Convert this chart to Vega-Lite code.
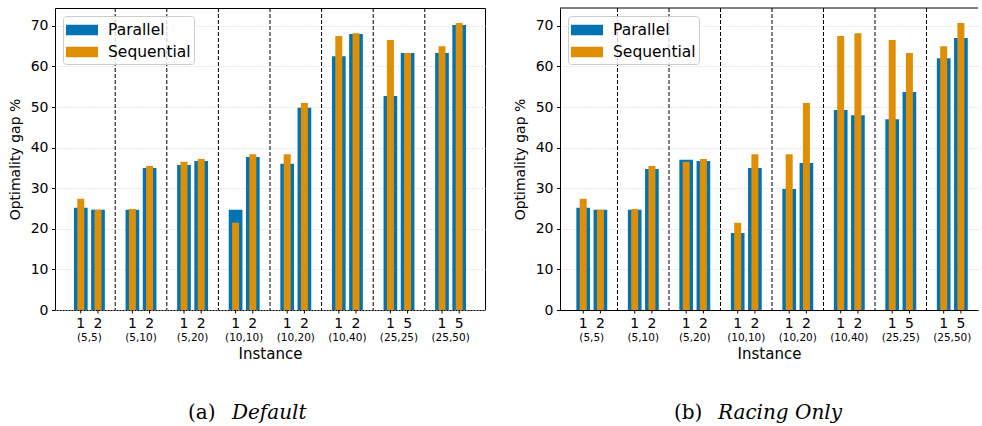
{
  "$schema": "https://vega.github.io/schema/vega-lite/v6.json",
  "padding": {"left": 7, "top": 7, "right": 0, "bottom": 0},
  "datasets": {
    "default": [
      {"g": "(5,5)", "k": 1, "inst": "1", "series": "Parallel", "v": 25.2},
      {"g": "(5,5)", "k": 1, "inst": "1", "series": "Sequential", "v": 27.4},
      {"g": "(5,5)", "k": 2, "inst": "2", "series": "Parallel", "v": 24.7},
      {"g": "(5,5)", "k": 2, "inst": "2", "series": "Sequential", "v": 24.7},
      {"g": "(5,10)", "k": 1, "inst": "1", "series": "Parallel", "v": 24.7},
      {"g": "(5,10)", "k": 1, "inst": "1", "series": "Sequential", "v": 24.9},
      {"g": "(5,10)", "k": 2, "inst": "2", "series": "Parallel", "v": 35.0},
      {"g": "(5,10)", "k": 2, "inst": "2", "series": "Sequential", "v": 35.5},
      {"g": "(5,20)", "k": 1, "inst": "1", "series": "Parallel", "v": 35.7},
      {"g": "(5,20)", "k": 1, "inst": "1", "series": "Sequential", "v": 36.5},
      {"g": "(5,20)", "k": 2, "inst": "2", "series": "Parallel", "v": 36.7},
      {"g": "(5,20)", "k": 2, "inst": "2", "series": "Sequential", "v": 37.2},
      {"g": "(10,10)", "k": 1, "inst": "1", "series": "Parallel", "v": 24.7},
      {"g": "(10,10)", "k": 1, "inst": "1", "series": "Sequential", "v": 21.5},
      {"g": "(10,10)", "k": 2, "inst": "2", "series": "Parallel", "v": 37.7},
      {"g": "(10,10)", "k": 2, "inst": "2", "series": "Sequential", "v": 38.4},
      {"g": "(10,20)", "k": 1, "inst": "1", "series": "Parallel", "v": 36.0},
      {"g": "(10,20)", "k": 1, "inst": "1", "series": "Sequential", "v": 38.4},
      {"g": "(10,20)", "k": 2, "inst": "2", "series": "Parallel", "v": 49.8},
      {"g": "(10,20)", "k": 2, "inst": "2", "series": "Sequential", "v": 51.0},
      {"g": "(10,40)", "k": 1, "inst": "1", "series": "Parallel", "v": 62.5},
      {"g": "(10,40)", "k": 1, "inst": "1", "series": "Sequential", "v": 67.5},
      {"g": "(10,40)", "k": 2, "inst": "2", "series": "Parallel", "v": 68.0},
      {"g": "(10,40)", "k": 2, "inst": "2", "series": "Sequential", "v": 68.2},
      {"g": "(25,25)", "k": 1, "inst": "1", "series": "Parallel", "v": 52.7},
      {"g": "(25,25)", "k": 1, "inst": "1", "series": "Sequential", "v": 66.5},
      {"g": "(25,25)", "k": 2, "inst": "5", "series": "Parallel", "v": 63.3},
      {"g": "(25,25)", "k": 2, "inst": "5", "series": "Sequential", "v": 63.3},
      {"g": "(25,50)", "k": 1, "inst": "1", "series": "Parallel", "v": 63.3},
      {"g": "(25,50)", "k": 1, "inst": "1", "series": "Sequential", "v": 65.0},
      {"g": "(25,50)", "k": 2, "inst": "5", "series": "Parallel", "v": 70.2},
      {"g": "(25,50)", "k": 2, "inst": "5", "series": "Sequential", "v": 70.7}
    ],
    "racing": [
      {"g": "(5,5)", "k": 1, "inst": "1", "series": "Parallel", "v": 25.2},
      {"g": "(5,5)", "k": 1, "inst": "1", "series": "Sequential", "v": 27.4},
      {"g": "(5,5)", "k": 2, "inst": "2", "series": "Parallel", "v": 24.7},
      {"g": "(5,5)", "k": 2, "inst": "2", "series": "Sequential", "v": 24.7},
      {"g": "(5,10)", "k": 1, "inst": "1", "series": "Parallel", "v": 24.7},
      {"g": "(5,10)", "k": 1, "inst": "1", "series": "Sequential", "v": 24.9},
      {"g": "(5,10)", "k": 2, "inst": "2", "series": "Parallel", "v": 34.75},
      {"g": "(5,10)", "k": 2, "inst": "2", "series": "Sequential", "v": 35.5},
      {"g": "(5,20)", "k": 1, "inst": "1", "series": "Parallel", "v": 37.0},
      {"g": "(5,20)", "k": 1, "inst": "1", "series": "Sequential", "v": 36.5},
      {"g": "(5,20)", "k": 2, "inst": "2", "series": "Parallel", "v": 36.7},
      {"g": "(5,20)", "k": 2, "inst": "2", "series": "Sequential", "v": 37.2},
      {"g": "(10,10)", "k": 1, "inst": "1", "series": "Parallel", "v": 19.0},
      {"g": "(10,10)", "k": 1, "inst": "1", "series": "Sequential", "v": 21.5},
      {"g": "(10,10)", "k": 2, "inst": "2", "series": "Parallel", "v": 35.0},
      {"g": "(10,10)", "k": 2, "inst": "2", "series": "Sequential", "v": 38.4},
      {"g": "(10,20)", "k": 1, "inst": "1", "series": "Parallel", "v": 29.8},
      {"g": "(10,20)", "k": 1, "inst": "1", "series": "Sequential", "v": 38.4},
      {"g": "(10,20)", "k": 2, "inst": "2", "series": "Parallel", "v": 36.2},
      {"g": "(10,20)", "k": 2, "inst": "2", "series": "Sequential", "v": 51.0},
      {"g": "(10,40)", "k": 1, "inst": "1", "series": "Parallel", "v": 49.3},
      {"g": "(10,40)", "k": 1, "inst": "1", "series": "Sequential", "v": 67.5},
      {"g": "(10,40)", "k": 2, "inst": "2", "series": "Parallel", "v": 48.0},
      {"g": "(10,40)", "k": 2, "inst": "2", "series": "Sequential", "v": 68.2},
      {"g": "(25,25)", "k": 1, "inst": "1", "series": "Parallel", "v": 47.0},
      {"g": "(25,25)", "k": 1, "inst": "1", "series": "Sequential", "v": 66.5},
      {"g": "(25,25)", "k": 2, "inst": "5", "series": "Parallel", "v": 53.7},
      {"g": "(25,25)", "k": 2, "inst": "5", "series": "Sequential", "v": 63.3},
      {"g": "(25,50)", "k": 1, "inst": "1", "series": "Parallel", "v": 62.0},
      {"g": "(25,50)", "k": 1, "inst": "1", "series": "Sequential", "v": 65.0},
      {"g": "(25,50)", "k": 2, "inst": "5", "series": "Parallel", "v": 67.0},
      {"g": "(25,50)", "k": 2, "inst": "5", "series": "Sequential", "v": 70.7}
    ]
  },
  "hconcat": [
    {
      "data": {"name": "default"},
      "width": 430,
      "height": 302,
      "title": {"text": "(a)", "subtitle": "\u2800\u2800\u2800Default", "orient": "bottom", "anchor": "start", "frame": "group", "dx": 133, "offset": 41, "font": "DejaVu Serif", "fontSize": 20, "fontWeight": "normal", "color": "#000", "subtitleFont": "DejaVu Serif", "subtitleFontSize": 20, "subtitleFontStyle": "italic", "subtitleColor": "#000", "subtitlePadding": -20},
      "layer": [
        {
          "transform": [{"filter": "datum.series == 'Parallel'"}],
          "mark": {"type": "bar", "width": 13.7},
          "encoding": {
            "x": {"field": "g", "type": "nominal", "sort": null,
              "scale": {"type": "band", "domain": ["(5,5)", "(5,10)", "(5,20)", "(10,10)", "(10,20)", "(10,40)", "(25,25)", "(25,50)"], "paddingInner": 0, "paddingOuter": 0.1667},
              "axis": {"title": "Instance", "bandPosition": 0.5, "labelAngle": 0, "ticks": false, "tickSize": 0, "domain": false, "grid": false, "labelFontSize": 10.5, "labelPadding": 22, "titleFontSize": 15, "titlePadding": 4}},
            "xOffset": {"field": "k", "type": "ordinal", "scale": {"domain": [1, 2], "paddingInner": 0, "paddingOuter": 0.5}},
            "y": {"field": "v", "type": "quantitative", "scale": {"domain": [0, 74.4], "nice": false, "zero": true},
              "axis": {"title": "Optimality gap %", "values": [0, 10, 20, 30, 40, 50, 60, 70], "grid": true, "gridDash": [1, 2], "gridColor": "#d0d0d0", "domain": false, "tickSize": 3.5, "labelPadding": 3.5, "labelFontSize": 14, "titleFontSize": 14, "titlePadding": 8}},
            "color": {"field": "series", "type": "nominal", "scale": {"domain": ["Parallel", "Sequential"], "range": ["#0173b2", "#de8f05"]}, "legend": {"orient": "top-left", "offset": 8, "title": null}}
          }
        },
        {
          "transform": [{"filter": "datum.series == 'Parallel' && datum.k == 1 && datum.g != '(5,5)'"}],
          "mark": {"type": "rule", "color": "#000", "strokeWidth": 1, "strokeDash": [4, 2]},
          "encoding": {"x": {"field": "g", "type": "nominal", "bandPosition": 0}}
        },
        {
          "transform": [{"filter": "datum.series == 'Sequential'"}],
          "mark": {"type": "bar", "width": 7},
          "encoding": {
            "x": {"field": "g", "type": "nominal"},
            "xOffset": {"field": "k", "type": "ordinal"},
            "y": {"field": "v", "type": "quantitative"},
            "color": {"field": "series", "type": "nominal"}
          }
        },
        {
          "transform": [{"filter": "datum.series == 'Parallel'"}],
          "mark": {"type": "rule", "color": "#000", "strokeWidth": 1},
          "encoding": {
            "x": {"field": "g", "type": "nominal"},
            "xOffset": {"field": "k", "type": "ordinal"},
            "y": {"datum": 0},
            "y2": {"datum": -0.86}
          }
        },
        {
          "transform": [{"filter": "datum.series == 'Parallel'"}],
          "mark": {"type": "text", "baseline": "top", "dy": 7, "fontSize": 14, "color": "#000"},
          "encoding": {
            "x": {"field": "g", "type": "nominal"},
            "xOffset": {"field": "k", "type": "ordinal"},
            "y": {"datum": 0},
            "text": {"field": "inst"}
          }
        }
      ]
    },
    {
      "data": {"name": "racing"},
      "width": 418,
      "height": 302,
      "view": {"stroke": null},
      "title": {"text": "(b)", "subtitle": "\u2800\u2800\u2800Racing Only", "orient": "bottom", "anchor": "start", "frame": "group", "dx": 114, "offset": 41, "font": "DejaVu Serif", "fontSize": 20, "fontWeight": "normal", "color": "#000", "subtitleFont": "DejaVu Serif", "subtitleFontSize": 20, "subtitleFontStyle": "italic", "subtitleColor": "#000", "subtitlePadding": -20},
      "layer": [
        {
          "transform": [{"filter": "datum.series == 'Parallel'"}],
          "mark": {"type": "bar", "width": 13.7},
          "encoding": {
            "x": {"field": "g", "type": "nominal", "sort": null,
              "scale": {"type": "band", "domain": ["(5,5)", "(5,10)", "(5,20)", "(10,10)", "(10,20)", "(10,40)", "(25,25)", "(25,50)"], "paddingInner": 0, "paddingOuter": 0.0583, "align": 1},
              "axis": {"title": "Instance", "bandPosition": 0.5, "labelAngle": 0, "ticks": false, "tickSize": 0, "domain": true, "domainColor": "#000", "grid": false, "labelFontSize": 10.5, "labelPadding": 22, "titleFontSize": 15, "titlePadding": 4}},
            "xOffset": {"field": "k", "type": "ordinal", "scale": {"domain": [1, 2], "paddingInner": 0, "paddingOuter": 0.5}},
            "y": {"field": "v", "type": "quantitative", "scale": {"domain": [0, 74.4], "nice": false, "zero": true},
              "axis": {"title": "Optimality gap %", "values": [0, 10, 20, 30, 40, 50, 60, 70], "grid": true, "gridDash": [1, 2], "gridColor": "#d0d0d0", "domain": true, "domainColor": "#000", "tickSize": 3.5, "labelPadding": 3.5, "labelFontSize": 14, "titleFontSize": 14, "titlePadding": 8}},
            "color": {"field": "series", "type": "nominal", "scale": {"domain": ["Parallel", "Sequential"], "range": ["#0173b2", "#de8f05"]}, "legend": {"orient": "top-left", "offset": 8, "title": null}}
          }
        },
        {
          "transform": [{"filter": "datum.series == 'Parallel' && datum.k == 1 && datum.g != '(5,5)'"}],
          "mark": {"type": "rule", "color": "#000", "strokeWidth": 1, "strokeDash": [4, 2]},
          "encoding": {"x": {"field": "g", "type": "nominal", "bandPosition": 0}}
        },
        {
          "transform": [{"filter": "datum.series == 'Sequential'"}],
          "mark": {"type": "bar", "width": 7},
          "encoding": {
            "x": {"field": "g", "type": "nominal"},
            "xOffset": {"field": "k", "type": "ordinal"},
            "y": {"field": "v", "type": "quantitative"},
            "color": {"field": "series", "type": "nominal"}
          }
        },
        {
          "transform": [{"filter": "datum.series == 'Parallel' && datum.k == 1 && datum.g == '(5,5)'"}],
          "mark": {"type": "rule", "color": "#000", "strokeWidth": 1},
          "encoding": {"y": {"datum": 74.4}}
        },
        {
          "transform": [{"filter": "datum.series == 'Parallel'"}],
          "mark": {"type": "rule", "color": "#000", "strokeWidth": 1},
          "encoding": {
            "x": {"field": "g", "type": "nominal"},
            "xOffset": {"field": "k", "type": "ordinal"},
            "y": {"datum": 0},
            "y2": {"datum": -0.86}
          }
        },
        {
          "transform": [{"filter": "datum.series == 'Parallel'"}],
          "mark": {"type": "text", "baseline": "top", "dy": 7, "fontSize": 14, "color": "#000"},
          "encoding": {
            "x": {"field": "g", "type": "nominal"},
            "xOffset": {"field": "k", "type": "ordinal"},
            "y": {"datum": 0},
            "text": {"field": "inst"}
          }
        }
      ]
    }
  ],
  "spacing": 27,
  "resolve": {"legend": {"color": "independent"}},
  "config": {
    "font": "DejaVu Sans",
    "view": {"stroke": "#000", "strokeWidth": 1},
    "axis": {"labelColor": "#000", "titleColor": "#000", "titleFontWeight": "normal", "tickColor": "#000", "domainColor": "#000"},
    "legend": {"labelFontSize": 15.5, "labelColor": "#000", "symbolType": "M-1.5,-0.5H1.5V0.5H-1.5Z", "symbolSize": 458, "symbolStrokeWidth": 0, "symbolOpacity": 1, "padding": 3, "rowPadding": 2, "labelOffset": 15, "symbolOffset": 5, "strokeColor": "#cccccc", "fillColor": "rgba(255,255,255,0.8)", "cornerRadius": 3}
  }
}
